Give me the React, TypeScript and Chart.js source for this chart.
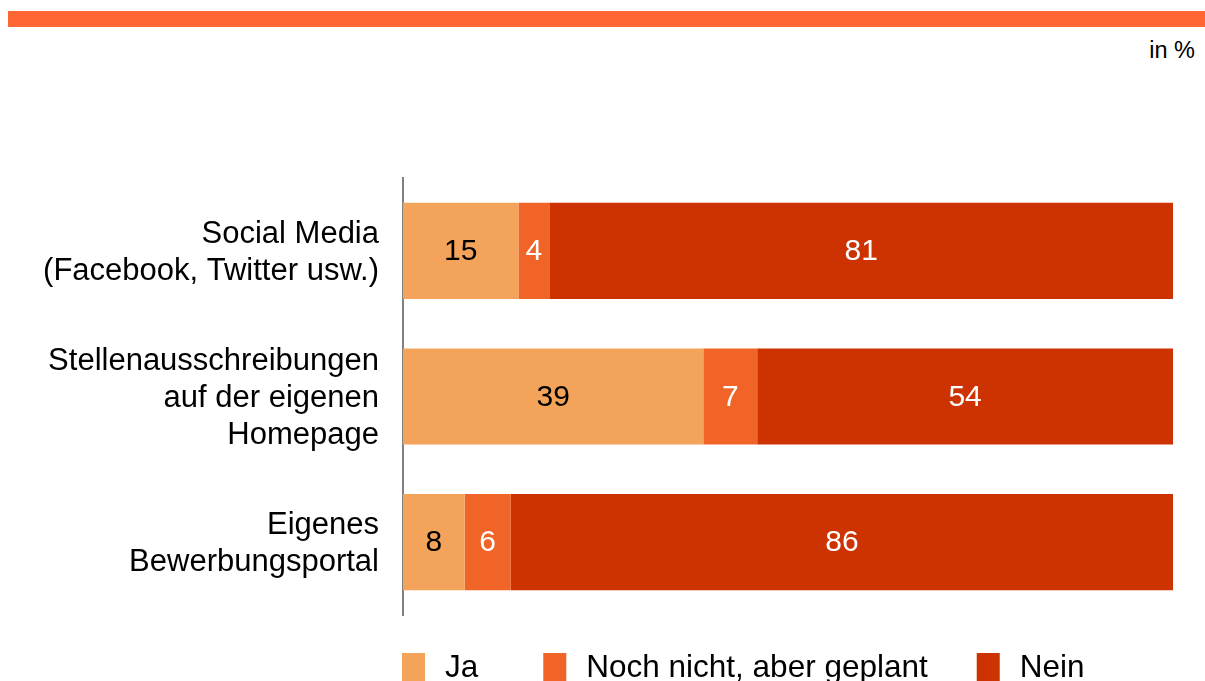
import React, { useEffect, useRef } from "react";
import { Chart, registerables } from "chart.js";

Chart.register(...registerables);

const categories: string[][] = [
  ["Social Media", "(Facebook, Twitter usw.)"],
  ["Stellenausschreibungen", "auf der eigenen", "Homepage"],
  ["Eigenes", "Bewerbungsportal"],
];
const seriesNames = ["Ja", "Noch nicht, aber geplant", "Nein"];
const jaValues = [15, 39, 8];
const geplantValues = [4, 7, 6];
const neinValues = [81, 54, 86];
const seriesColors = ["#F4A35A", "#F06428", "#CC3300"];
const labelColors = ["#000000", "#FFFFFF", "#FFFFFF"];
const unitLabel = "in %";

const FONT = "'Liberation Sans', Arial, sans-serif";
const LEGEND_GAPS = [65, 49, 0];

const valueLabelPlugin = {
  id: "valueLabels",
  afterDatasetsDraw(chart: any) {
    const ctx = chart.ctx;
    ctx.save();
    ctx.font = `30px ${FONT}`;
    ctx.textAlign = "center";
    ctx.textBaseline = "middle";
    chart.data.datasets.forEach((ds: any, di: number) => {
      const meta = chart.getDatasetMeta(di);
      meta.data.forEach((el: any, i: number) => {
        const v = ds.data[i];
        const cx = (el.x + el.base) / 2;
        ctx.fillStyle = labelColors[di];
        ctx.fillText(String(v), cx, el.y + 1);
      });
    });
    ctx.restore();
  },
};

const customLegendPlugin = {
  id: "customLegend",
  afterDraw(chart: any) {
    const ctx = chart.ctx;
    ctx.save();
    ctx.font = `31.5px ${FONT}`;
    ctx.textBaseline = "middle";
    ctx.textAlign = "left";
    let x = chart.chartArea.left - 1;
    const boxTop = chart.chartArea.bottom + 38;
    const box = 23;
    chart.data.datasets.forEach((ds: any, i: number) => {
      ctx.fillStyle = ds.backgroundColor;
      ctx.fillRect(x, boxTop, box, box + 6);
      ctx.fillStyle = "#000000";
      const tx = x + box + 20;
      ctx.fillText(ds.label, tx, boxTop + 15);
      x = tx + ctx.measureText(ds.label).width + LEGEND_GAPS[i];
    });
    ctx.restore();
  },
};

export default function App() {
  const ref = useRef<HTMLCanvasElement | null>(null);

  useEffect(() => {
    if (!ref.current) return;
    const data = [jaValues, geplantValues, neinValues];
    const chart = new Chart(ref.current, {
      type: "bar",
      data: {
        labels: categories,
        datasets: seriesNames.map((name, i) => ({
          label: name,
          data: data[i],
          backgroundColor: seriesColors[i],
          borderWidth: 0,
          barPercentage: 0.66,
          categoryPercentage: 1,
        })),
      },
      options: {
        indexAxis: "y",
        animation: false,
        responsive: false,
        maintainAspectRatio: false,
        layout: { padding: { top: 178, right: 32, bottom: 66, left: 0 } },
        plugins: {
          legend: { display: false },
          tooltip: { enabled: false },
        },
        scales: {
          x: {
            stacked: true,
            min: 0,
            max: 100,
            display: false,
          },
          y: {
            stacked: true,
            grid: { display: false, drawTicks: false },
            border: { display: true, color: "#808080", width: 2 },
            ticks: {
              color: "#000000",
              padding: 24,
              labelOffset: 2,
              font: { family: FONT, size: 31, lineHeight: 1.2 },
            },
            afterFit(scale: any) {
              scale.width = 403;
            },
          },
        },
      },
      plugins: [valueLabelPlugin, customLegendPlugin],
    });
    return () => chart.destroy();
  }, []);

  return (
    <div style={{ position: "absolute", left: 0, top: 0, width: 1205, height: 681, overflow: "hidden", background: "#fff" }}>
      <div style={{ position: "absolute", left: 8, top: 11, width: 1197, height: 16, background: "#FF6633" }} />
      <div
        style={{
          position: "absolute",
          right: 10,
          top: 37,
          fontFamily: FONT,
          fontSize: 23.5,
          color: "#000",
        }}
      >
        {unitLabel}
      </div>
      <canvas ref={ref} width={1205} height={681} style={{ position: "absolute", left: 0, top: 0 }} />
    </div>
  );
}
